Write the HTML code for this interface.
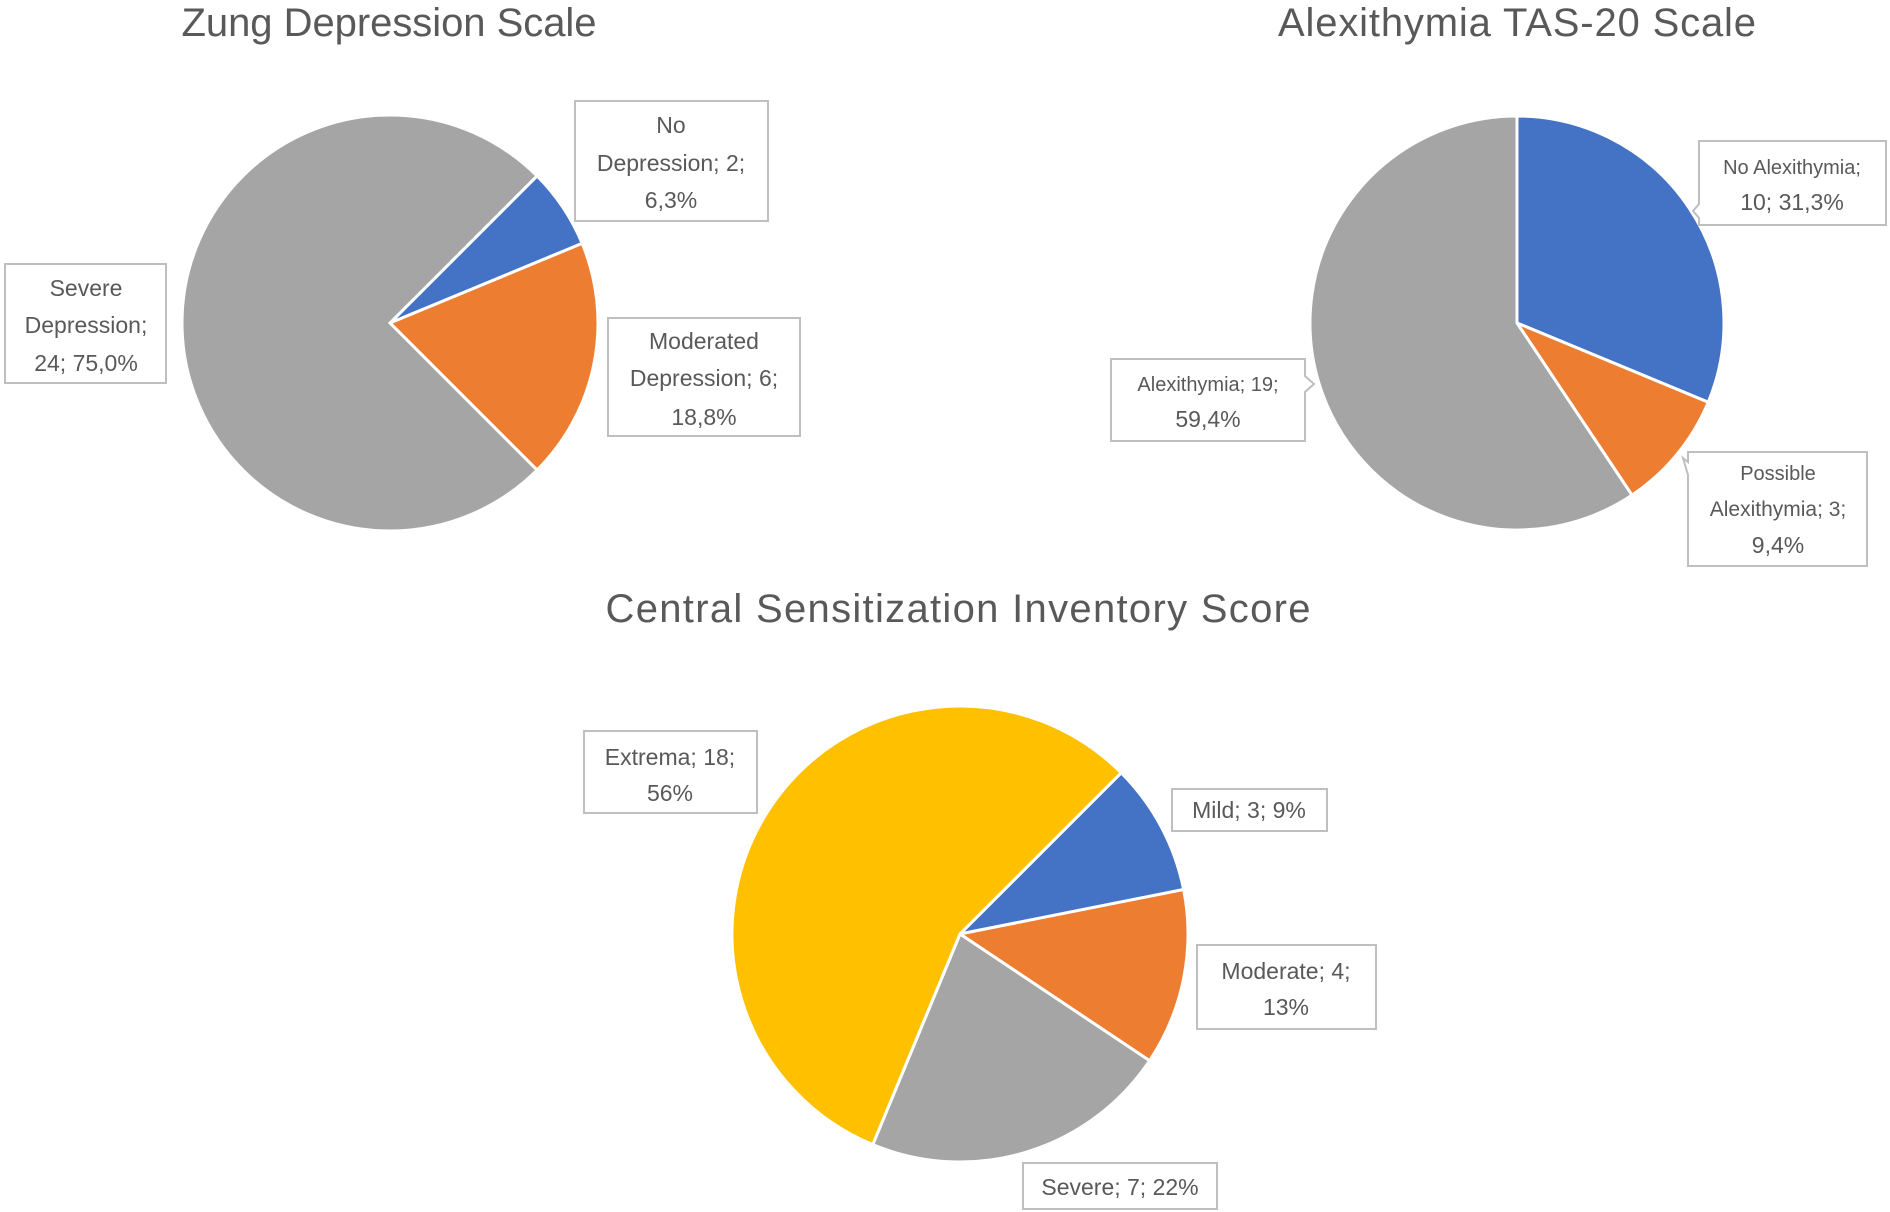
<!DOCTYPE html>
<html><head><meta charset="utf-8"><style>
html,body{margin:0;padding:0;background:#fff;}
svg{display:block;font-family:"Liberation Sans",sans-serif;}
.t{fill:#595959;font-size:40px;text-anchor:middle;}
.l{fill:#595959;font-size:23px;text-anchor:middle;}
.b{fill:#fff;stroke:#bfbfbf;stroke-width:2;}
</style></head><body>
<svg id="c" width="1890" height="1212" viewBox="0 0 1890 1212">
<text class="t" x="389" y="36" textLength="415">Zung Depression Scale</text>
<text class="t" x="1517" y="36" textLength="478">Alexithymia TAS-20 Scale</text>
<text class="t" x="958" y="622" textLength="705">Central Sensitization Inventory Score</text>
<g id="pies"></g>
<g>
<rect class="b" x="575" y="101" width="193" height="120"/>
<text class="l" x="671" y="133">No</text><text class="l" x="671" y="171">Depression; 2;</text><text class="l" x="671" y="208">6,3%</text>
<rect class="b" x="5" y="264" width="161" height="119"/>
<text class="l" x="86" y="296">Severe</text><text class="l" x="86" y="333">Depression;</text><text class="l" x="86" y="371">24; 75,0%</text>
<rect class="b" x="608" y="318" width="192" height="118"/>
<text class="l" x="704" y="349">Moderated</text><text class="l" x="704" y="386">Depression; 6;</text><text class="l" x="704" y="425">18,8%</text>
</g>
<g>
<path class="b" d="M1699 141 H1886 V225 H1699 V218 L1693 211 L1699 204 Z"/>
<text class="l" x="1792" y="174" style="font-size:20px">No Alexithymia;</text><text class="l" x="1792" y="210">10; 31,3%</text>
<path class="b" d="M1111 359 H1305 V376 L1314 384 L1305 392 V441 H1111 Z"/>
<text class="l" x="1208" y="391" style="font-size:20px">Alexithymia; 19;</text><text class="l" x="1208" y="427">59,4%</text>
<path class="b" d="M1688 452 H1867 V566 H1688 V475 L1683 458 L1688 462 Z"/>
<text class="l" x="1778" y="480" style="font-size:20px">Possible</text><text class="l" x="1778" y="516" style="font-size:21px">Alexithymia; 3;</text><text class="l" x="1778" y="553">9,4%</text>
</g>
<g>
<rect class="b" x="584" y="731" width="173" height="82"/>
<text class="l" x="670" y="765">Extrema; 18;</text><text class="l" x="670" y="801">56%</text>
<rect class="b" x="1172" y="789" width="155" height="42"/>
<text class="l" x="1249" y="818">Mild; 3; 9%</text>
<rect class="b" x="1197" y="945" width="179" height="84"/>
<text class="l" x="1286" y="979">Moderate; 4;</text><text class="l" x="1286" y="1015">13%</text>
<rect class="b" x="1023" y="1163" width="194" height="46"/>
<text class="l" x="1120" y="1195">Severe; 7; 22%</text>
</g>
</svg>
<script>
const zungCategories = ["No Depression","Moderated Depression","Severe Depression"];
const zungValues = [2, 6, 24];
const alexCategories = ["No Alexithymia","Possible Alexithymia","Alexithymia"];
const alexValues = [10, 3, 19];
const csiCategories = ["Mild","Moderate","Severe","Extrema"];
const csiValues = [3, 4, 7, 18];
const zungColors = ["#4472c4","#ed7d31","#a5a5a5"];
const alexColors = ["#4472c4","#ed7d31","#a5a5a5"];
const csiColors = ["#4472c4","#ed7d31","#a5a5a5","#ffc000"];
const NS = "http://www.w3.org/2000/svg";
const g = document.getElementById('pies');
function drawPie(name, cats, vals, colors, cx, cy, r, startDeg){
  const total = vals.reduce((a,b)=>a+b,0);
  let a = startDeg;
  const pt = d => { const t = d*Math.PI/180; return [cx + r*Math.sin(t), cy - r*Math.cos(t)]; };
  vals.forEach((v,i)=>{
    const sweep = v/total*360;
    const p0 = pt(a), p1 = pt(a+sweep);
    const large = sweep>180?1:0;
    const p = document.createElementNS(NS,'path');
    p.setAttribute('d',`M${cx},${cy} L${p0[0]},${p0[1]} A${r},${r} 0 ${large} 1 ${p1[0]},${p1[1]} Z`);
    p.setAttribute('fill',colors[i]);
    p.setAttribute('stroke','#fff');
    p.setAttribute('stroke-width','3');
    
    
    g.appendChild(p);
    a += sweep;
  });
}
drawPie('zung', zungCategories, zungValues, zungColors, 390, 323, 208, 45);
drawPie('alexithymia', alexCategories, alexValues, alexColors, 1517, 323, 207, 0);
drawPie('csi', csiCategories, csiValues, csiColors, 960, 934, 228, 45);
</script>
</body></html>
